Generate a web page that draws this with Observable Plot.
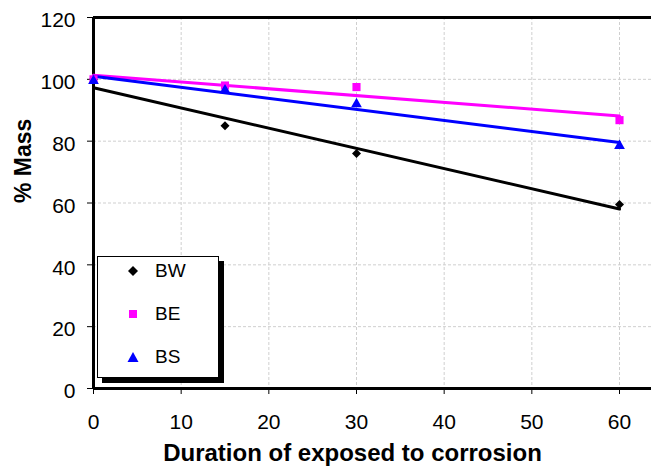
<!DOCTYPE html>
<html>
<head>
<meta charset="utf-8">
<script src="https://cdn.jsdelivr.net/npm/d3@7"></script>
<script src="https://cdn.jsdelivr.net/npm/@observablehq/plot@0.6"></script>
<style>
  html, body { margin: 0; padding: 0; background: #fff; }
  #wrap { position: relative; width: 651px; height: 472px; font-family: "Liberation Sans", Arial, sans-serif; }
  #legend { position: absolute; left: 97px; top: 256px; width: 122px; height: 122px; background: #fff;
            border: 1px solid #000; box-shadow: 5px 5px 0 #000; box-sizing: border-box; }
  #legend .row { position: absolute; left: 0; height: 24px; display: flex; align-items: center; }
  #legend .row svg { margin-left: 29px; }
  #legend .row span { margin-left: 16px; font-size: 19px; color: #000; }
</style>
</head>
<body>
<div id="wrap"></div>
<script>
const durations = [0, 15, 30, 60];
const seriesNames = ["BW", "BE", "BS"];
const bwValues = [100, 85, 76, 59.5];
const beValues = [100, 98, 97.5, 86.8];
const bsValues = [99.5, 96.5, 92, 78.5];
const xTicks = [0, 10, 20, 30, 40, 50, 60];
const yTicks = [0, 20, 40, 60, 80, 100, 120];
const colors = {BW: "#000000", BE: "#ff00ff", BS: "#0000ff"};
const symbols = {BW: "diamond2", BE: "square", BS: "triangle"};
const symbolSizes = {BW: 52, BE: 66, BS: 50};

const allValues = {BW: bwValues, BE: beValues, BS: bsValues};
const data = seriesNames.flatMap(s => durations.map((d, i) => ({series: s, x: d, y: allValues[s][i]})));

const plot = Plot.plot({
  width: 651,
  height: 472,
  marginLeft: 93,
  marginRight: 0,
  marginTop: 17,
  marginBottom: 84,
  style: {fontFamily: "Liberation Sans, Arial, sans-serif", background: "#fff"},
  x: {domain: [0, 60 * 558 / 526], range: [93, 651]},
  y: {domain: [0, 120]},
  marks: [
    Plot.gridX(xTicks.slice(1), {stroke: "#cfcfcf", strokeOpacity: 1, strokeDasharray: "3,2"}),
    Plot.gridY(yTicks.slice(1), {stroke: "#cfcfcf", strokeOpacity: 1, strokeDasharray: "3,2"}),
    Plot.axisX({ticks: xTicks, tickSize: 6, tickPadding: 20, fontSize: 21, label: null, stroke: "#000"}),
    Plot.axisY({ticks: yTicks, tickSize: 6, tickFormat: () => "", label: null, stroke: "#000"}),
    Plot.axisY({ticks: yTicks, tickSize: 0, tickPadding: 18, fontSize: 21, label: null, dy: 3}),
    Plot.ruleX([0], {stroke: "#000", strokeWidth: 3}),
    Plot.ruleY([0], {stroke: "#000", strokeWidth: 3}),
    Plot.ruleY([120], {stroke: "#000", strokeWidth: 3}),
    ...seriesNames.map(s => Plot.linearRegressionY(data.filter(d => d.series === s), {
      x: "x", y: "y", stroke: colors[s], strokeWidth: 3, ci: 0
    })),
    ...seriesNames.map(s => Plot.dot(data.filter(d => d.series === s), {
      x: "x", y: "y", fill: colors[s], stroke: "none", symbol: symbols[s], r: Math.sqrt(symbolSizes[s] / Math.PI)
    })),
    Plot.text(["Duration of exposed to corrosion"], {frameAnchor: "bottom", dx: -20, dy: 72, fontSize: 24, fontWeight: "bold", fill: "#000"}),
    Plot.text(["% Mass"], {frameAnchor: "left", dx: -70, rotate: -90, fontSize: 23, fontWeight: "bold", fill: "#000"})
  ]
});
const wrap = document.getElementById("wrap");
wrap.appendChild(plot);

// Legend
const legend = document.createElement("div");
legend.id = "legend";
const rowTops = [2, 45, 88];
const symbolPaths = {
  BW: "M6,1 L11,6 L6,11 L1,6 Z",
  BE: "M2,2 L10,2 L10,10 L2,10 Z",
  BS: "M6,1 L11.5,11 L0.5,11 Z"
};
seriesNames.forEach((s, i) => {
  const row = document.createElement("div");
  row.className = "row";
  row.style.top = rowTops[i] + "px";
  row.innerHTML = `<svg width="12" height="12" viewBox="0 0 12 12"><path d="${symbolPaths[s]}" fill="${colors[s]}"/></svg><span>${s}</span>`;
  legend.appendChild(row);
});
wrap.appendChild(legend);
</script>
</body>
</html>
